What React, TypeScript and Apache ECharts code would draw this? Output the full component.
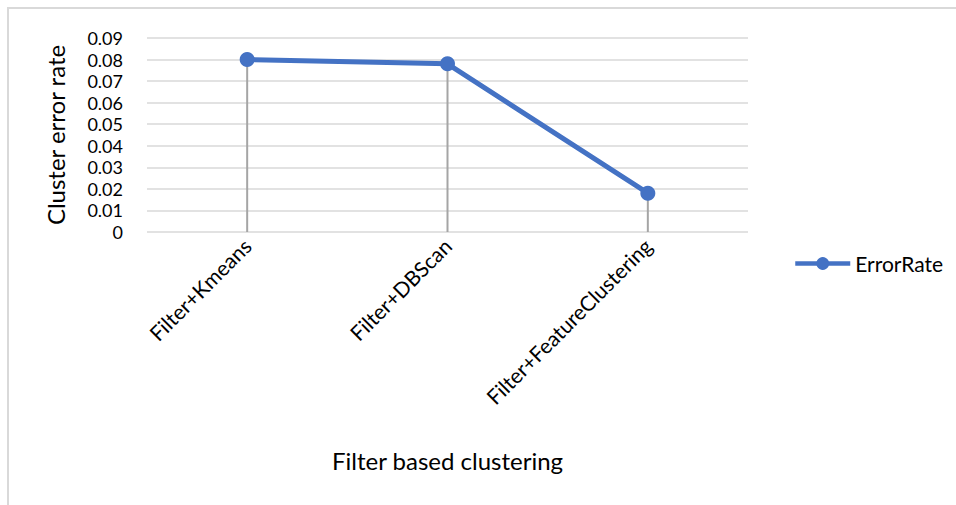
import React, { useEffect, useRef } from "react";
import * as echarts from "echarts";

const categories = ["Filter+Kmeans", "Filter+DBScan", "Filter+FeatureClustering"];
const errorRate = [0.08, 0.078, 0.018];
const seriesName = "ErrorRate";
const yMin = 0;
const yMax = 0.09;
const yInterval = 0.01;

export default function App() {
  const ref = useRef<HTMLDivElement>(null);
  useEffect(() => {
    if (!ref.current) return;
    const chart = echarts.init(ref.current, null, { renderer: "svg" });
    const font = "Lato, 'Noto Sans', sans-serif";
    chart.setOption({
      animation: false,
      backgroundColor: "#ffffff",
      textStyle: { fontFamily: font },
      graphic: [
        {
          type: "rect",
          shape: { x: 8, y: 8, width: 1000, height: 600 },
          style: { fill: "none", stroke: "#d9d9d9", lineWidth: 2 },
          silent: true,
        },
      ],
      grid: { left: 147, right: 208, top: 38, bottom: 273, containLabel: false },
      legend: {
        data: [seriesName],
        left: 788,
        top: 248,
        itemWidth: 55,
        itemHeight: 16,
        itemGap: 6,
        lineStyle: { width: 4.5 },
        textStyle: { fontSize: 21, color: "#000", fontFamily: font },
      },
      xAxis: {
        type: "category",
        data: categories,
        boundaryGap: true,
        axisLine: { show: false },
        axisTick: { show: false },
        axisLabel: { rotate: 45, fontSize: 21, color: "#000", margin: 10, interval: 0, fontFamily: font },
        name: "Filter based clustering",
        nameLocation: "middle",
        nameGap: 216,
        nameTextStyle: { fontSize: 24, color: "#000", fontFamily: font },
      },
      yAxis: {
        type: "value",
        min: yMin,
        max: yMax,
        interval: yInterval,
        axisLine: { show: false },
        axisTick: { show: false },
        axisLabel: {
          fontSize: 18,
          lineHeight: 18,
          color: "#000",
          margin: 24,
          fontFamily: font,
          formatter: (v: number) => (v === 0 ? "0" : v.toFixed(2)),
        },
        splitLine: { lineStyle: { color: "#d9d9d9", width: 1.5 } },
        name: "Cluster error rate",
        nameLocation: "middle",
        nameGap: 80,
        nameRotate: 90,
        nameTextStyle: { fontSize: 24, color: "#000", fontFamily: font },
      },
      series: [
        {
          name: "drop",
          type: "bar",
          data: errorRate,
          barWidth: 2,
          itemStyle: { color: "#a5a5a5" },
          z: 1,
          silent: true,
        },
        {
          name: seriesName,
          type: "line",
          data: errorRate,
          symbol: "circle",
          symbolSize: 15,
          lineStyle: { color: "#4472c4", width: 5 },
          itemStyle: { color: "#4472c4" },
          z: 3,
        },
      ],
    });
    return () => chart.dispose();
  }, []);
  return (
    <div
      ref={ref}
      style={{ position: "fixed", left: 0, top: 0, width: 956, height: 505 }}
    />
  );
}
